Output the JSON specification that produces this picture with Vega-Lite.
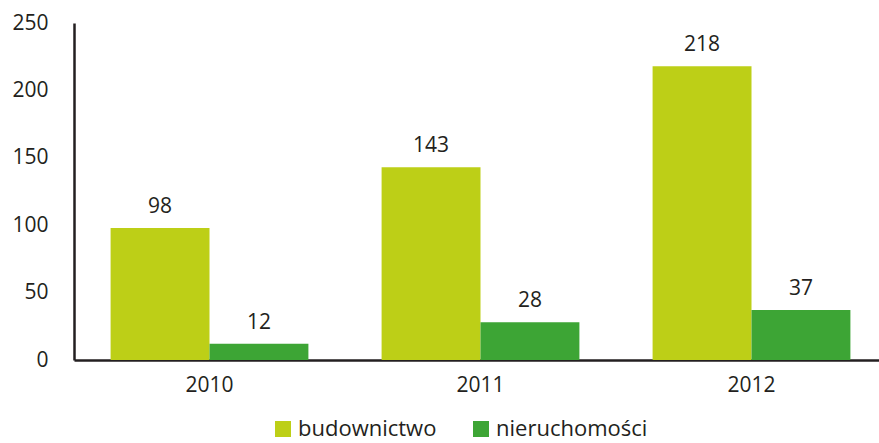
{
  "$schema": "https://vega.github.io/schema/vega-lite/v6.json",
  "width": 813,
  "height": 337,
  "autosize": {"type": "none"},
  "padding": {"left": 74, "top": 23, "right": 0, "bottom": 83},
  "background": "white",
  "config": {
    "view": {"stroke": null},
    "font": "Open Sans",
    "text": {"font": "Open Sans"}
  },
  "data": {
    "values": [
      {"rok": "2010", "sektor": "budownictwo", "wartosc": 98},
      {"rok": "2010", "sektor": "nieruchomości", "wartosc": 12},
      {"rok": "2011", "sektor": "budownictwo", "wartosc": 143},
      {"rok": "2011", "sektor": "nieruchomości", "wartosc": 28},
      {"rok": "2012", "sektor": "budownictwo", "wartosc": 218},
      {"rok": "2012", "sektor": "nieruchomości", "wartosc": 37}
    ]
  },
  "encoding": {
    "x": {
      "field": "rok", "type": "nominal",
      "scale": {"paddingInner": 0, "paddingOuter": 0},
      "axis": {
        "title": null, "labelAngle": 0, "ticks": false, "grid": false,
        "domainColor": "#231F20", "domainWidth": 2.5,
        "labelFontSize": 21, "labelColor": "#231F20", "labelPadding": 14,
        "labelFont": "Open Sans"
      }
    },
    "xOffset": {
      "field": "sektor", "type": "nominal",
      "scale": {"paddingInner": 0, "paddingOuter": 0.37},
      "sort": ["budownictwo", "nieruchomości"]
    },
    "y": {
      "field": "wartosc", "type": "quantitative",
      "scale": {"domain": [0, 250], "nice": false},
      "axis": {
        "title": null, "values": [0, 50, 100, 150, 200, 250],
        "ticks": false, "grid": false,
        "domainColor": "#231F20", "domainWidth": 2.5,
        "labelFontSize": 21, "labelColor": "#231F20", "labelPadding": 26,
        "labelFont": "Open Sans"
      }
    }
  },
  "layer": [
    {
      "mark": {"type": "bar"},
      "encoding": {
        "color": {
          "field": "sektor", "type": "nominal",
          "scale": {"domain": ["budownictwo", "nieruchomości"], "range": ["#BDCF17", "#3DA535"]},
          "legend": {
            "title": null, "orient": "none", "direction": "horizontal",
            "legendX": 198, "legendY": 395,
            "symbolType": "square", "symbolSize": 256, "symbolStrokeWidth": 0,
            "labelFontSize": 22, "labelColor": "#231F20", "labelFont": "Open Sans",
            "labelOffset": 4, "columnPadding": 33
          }
        }
      }
    },
    {
      "mark": {"type": "text", "baseline": "bottom", "dy": -11, "fontSize": 21, "color": "#231F20"},
      "encoding": {
        "text": {"field": "wartosc", "type": "quantitative"}
      }
    }
  ]
}
